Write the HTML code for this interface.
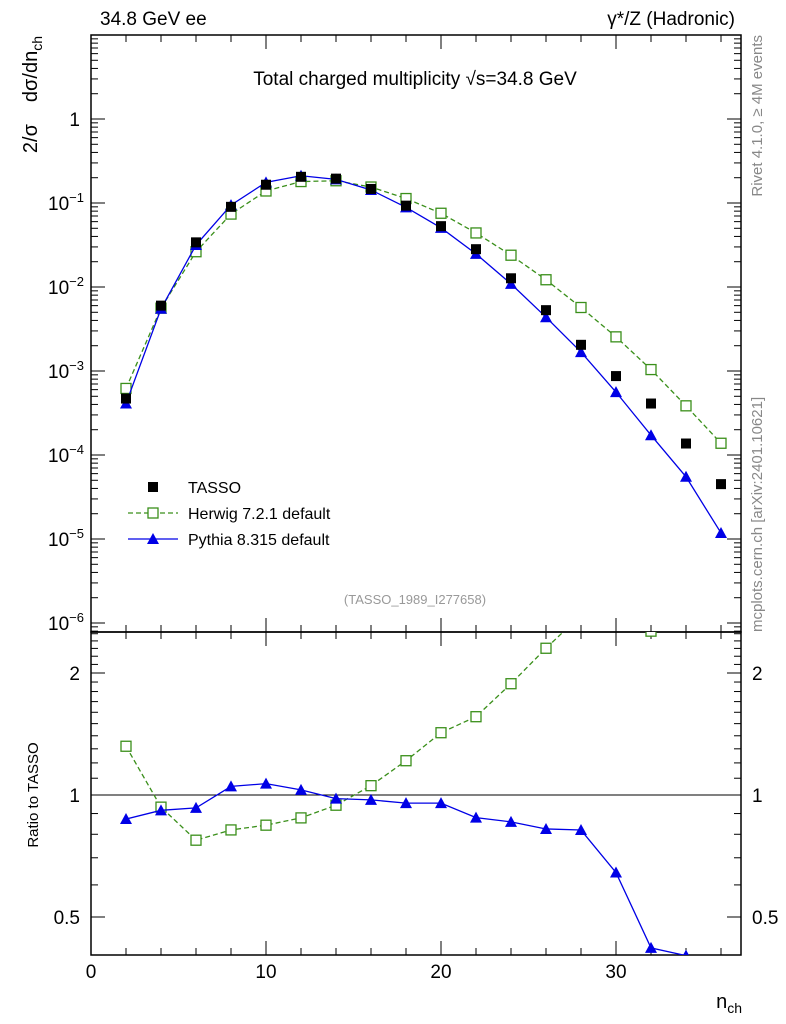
<!DOCTYPE html>
<html><head><meta charset="utf-8"><style>
body{margin:0;background:#fff;}
svg{display:block;font-family:"Liberation Sans",sans-serif;}
</style></head><body>
<svg id="c" width="786" height="1024" viewBox="0 0 786 1024">
<text x="100" y="25" font-size="19">34.8 GeV ee</text>
<text x="735" y="25" font-size="19" text-anchor="end">γ*/Z (Hadronic)</text>
<text x="415" y="85" font-size="19" text-anchor="middle">Total charged multiplicity √s=34.8 GeV</text>
<text transform="translate(37,36) rotate(-90)" font-size="20" text-anchor="end">2/σ<tspan dx="22">dσ/dn</tspan><tspan font-size="14" dy="5">ch</tspan></text>
<text transform="translate(762,35) rotate(-90)" font-size="15" fill="#888" text-anchor="end">Rivet 4.1.0, ≥ 4M events</text>
<text transform="translate(762,632) rotate(-90)" font-size="15" fill="#888">mcplots.cern.ch [arXiv:2401.10621]</text>
<text x="415" y="604" font-size="13" fill="#999" text-anchor="middle">(TASSO_1989_I277658)</text>
<text transform="translate(38,795) rotate(-90)" font-size="15" text-anchor="middle">Ratio to TASSO</text>
<text x="742" y="1008" font-size="20" text-anchor="end">n<tspan font-size="14" dy="5">ch</tspan></text>
<g id="g"></g>
</svg>
<script>
const nch=[2,4,6,8,10,12,14,16,18,20,22,24,26,28,30,32,34,36];
const tasso=[4.7e-4,6.0e-3,0.034,0.09,0.165,0.205,0.195,0.147,0.093,0.053,0.0282,0.0127,0.0053,0.00205,8.7e-4,4.1e-4,1.37e-4,4.5e-5];
const herwig=[6.2e-4,5.6e-3,0.0263,0.0738,0.139,0.18,0.184,0.155,0.113,0.0755,0.044,0.0239,0.0122,0.0057,0.00255,0.00104,3.85e-4,1.38e-4];
const pythia=[4.1e-4,5.5e-3,0.0316,0.0945,0.176,0.211,0.191,0.143,0.0888,0.0506,0.0248,0.0109,0.00437,0.00168,5.6e-4,1.72e-4,5.5e-5,1.18e-5];
const xTicks=[0,10,20,30];
const yTickExp=[0,-1,-2,-3,-4,-5,-6];
const rTicks=[0.5,1,2];

const NS="http://www.w3.org/2000/svg";
const g=document.getElementById('g');
const L=91,R=741,T=35,MB=632,RB=955;
const X=v=>L+v*17.5;
const Y=v=>119-84*Math.log10(v);
const RY=r=>795-122*Math.log2(r);
function el(t,a,p){const e=document.createElementNS(NS,t);for(const k in a)e.setAttribute(k,a[k]);(p||g).appendChild(e);return e;}

const defs=el('defs',{});
const c1=el('clipPath',{id:'cm'},defs);el('rect',{x:L,y:T,width:R-L,height:MB-T},c1);
const c2=el('clipPath',{id:'cr'},defs);el('rect',{x:L,y:MB,width:R-L,height:RB-MB},c2);

let f=el('rect',{x:L,y:T,width:R-L,height:MB-T,fill:'none',stroke:'#000','stroke-width':1.5});


f=el('rect',{x:L,y:MB,width:R-L,height:RB-MB,fill:'none',stroke:'#000','stroke-width':1.5});



for(let v=0;v<=37;v+=2){
  const big=v%10===0, len=big?14:7;
  for(const [t,b] of [[T,MB],[MB,RB]]){
    el('line',{x1:X(v),x2:X(v),y1:b,y2:b-len,stroke:'#000'});
    el('line',{x1:X(v),x2:X(v),y1:t,y2:t+len,stroke:'#000'});
  }
}
xTicks.forEach(v=>{const t=el('text',{x:X(v),y:978,'font-size':19,'text-anchor':'middle'});t.textContent=v;

});

for(let e=-7;e<=1;e++){for(let m=1;m<10;m++){const v=m*Math.pow(10,e);const y=Y(v);if(y<T||y>MB)continue;const len=m===1?14:7;
el('line',{x1:L,x2:L+len,y1:y,y2:y,stroke:'#000'});el('line',{x1:R,x2:R-len,y1:y,y2:y,stroke:'#000'});}}
yTickExp.forEach(e=>{const t=el('text',{x:e===0?80:84,y:Y(Math.pow(10,e))+7,'font-size':19,'text-anchor':'end'});
if(e===0)t.textContent='1';else{t.textContent='10';const s=el('tspan',{dy:-8,'font-size':13},t);s.textContent=String(e).replace('-','−');}

});

for(let r=0.4;r<=2.6;r+=0.1){const y=RY(r);if(y<MB||y>RB)continue;const big=Math.abs(r-0.5)<1e-6||Math.abs(r-1)<1e-6||Math.abs(r-2)<1e-6;const len=big?14:7;
el('line',{x1:L,x2:L+len,y1:y,y2:y,stroke:'#000'});el('line',{x1:R,x2:R-len,y1:y,y2:y,stroke:'#000'});}
rTicks.forEach(r=>{for(const [x,a] of [[80,'end'],[752,'start']]){const t=el('text',{x:x,y:RY(r)+7,'font-size':19,'text-anchor':a});t.textContent=r;

}});
el('line',{x1:L,x2:R,y1:RY(1),y2:RY(1),stroke:'#000'});

const green='#3a8f1a',blue='#0000e6';
function series(vals,col,dash,gc,name,marker,yf){
  const grp=el('g',{'clip-path':'url(#'+gc+')'});
  
  
  if(col){el('polyline',{points:nch.map((n,i)=>X(n)+','+yf(vals[i])).join(' '),fill:'none',stroke:col,'stroke-width':1.3,'stroke-dasharray':dash||'none'},grp);}
  nch.forEach((n,i)=>{const x=X(n),y=yf(vals[i]);let m;
    if(marker==='sq')m=el('rect',{x:x-5,y:y-5,width:10,height:10,fill:'#000'},grp);
    else if(marker==='osq')m=el('rect',{x:x-5,y:y-5,width:10,height:10,fill:'#fff',stroke:green,'stroke-width':1.3},grp);
    else m=el('polygon',{points:`${x},${y-6} ${x-6},${y+5} ${x+6},${y+5}`,fill:blue},grp);
    
    });
}
series(herwig,green,'5,3','cm','herwig-series','osq',Y);
series(pythia,blue,null,'cm','pythia-series','tri',Y);
series(tasso,null,null,'cm','tasso-series','sq',Y);
const hr=herwig.map((v,i)=>v/tasso[i]), pr=pythia.map((v,i)=>v/tasso[i]);
series(hr,green,'5,3','cr','herwig-ratio','osq',RY);
series(pr,blue,null,'cr','pythia-ratio','tri',RY);

const lg=el('g',{});


el('rect',{x:148,y:482,width:10,height:10,fill:'#000'},lg);
el('line',{x1:128,x2:178,y1:513,y2:513,stroke:green,'stroke-dasharray':'5,3','stroke-width':1.3},lg);
el('rect',{x:148,y:508,width:10,height:10,fill:'#fff',stroke:green,'stroke-width':1.3},lg);
el('line',{x1:128,x2:178,y1:539,y2:539,stroke:blue,'stroke-width':1.3},lg);
el('polygon',{points:'153,533 147,544 159,544',fill:blue},lg);
[['TASSO',493],['Herwig 7.2.1 default',519],['Pythia 8.315 default',545]].forEach(([s,y])=>{const t=el('text',{x:188,y:y,'font-size':16},lg);t.textContent=s;

});
</script>
</body></html>
